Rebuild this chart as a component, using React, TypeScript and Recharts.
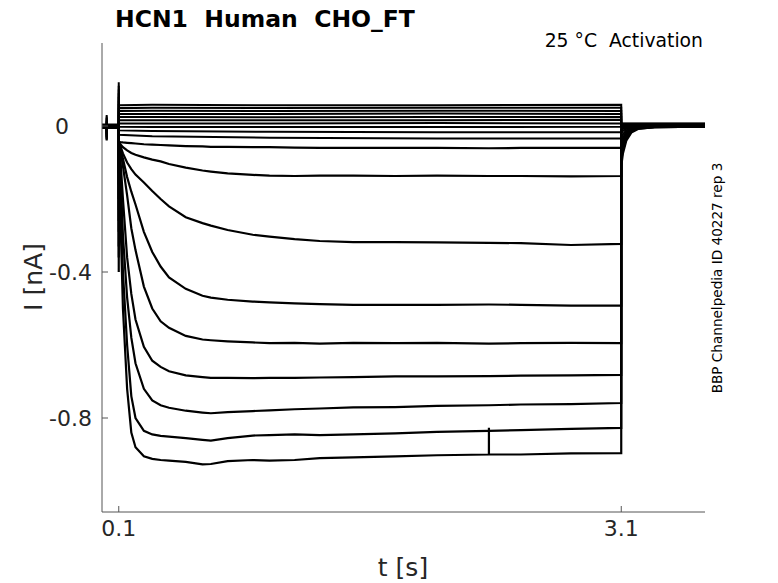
import React from 'react';
import { LineChart, Line, XAxis, YAxis } from 'recharts';

// time points (s)
const PRE_T = [0, 0.0279, 0.028, 0.0281, 0.0999];
const ONSET_T = 0.1;
const STEP_T = [
  0.1005, 0.11, 0.125, 0.15, 0.175, 0.2, 0.25, 0.3, 0.35, 0.4, 0.5, 0.6, 0.65, 0.75,
  0.9, 1.0, 1.15, 1.3, 1.5, 1.75, 2.0, 2.3099, 2.31, 2.3101, 2.5, 2.8, 3.0999,
];
const SMALL_T = [0.1005, 0.3, 1.0, 2.0, 3.0999];
const TAIL_T = [3.1, 3.11, 3.13, 3.16, 3.2, 3.3, 3.6];

// per sweep, top to bottom (10 small sweeps, then 9 large inward currents), nA
const BASELINE = [
  0.004, 0.003, 0.003, 0.002, 0.002, 0.001, 0.001, 0, 0, 0,
  -0.001, -0.001, -0.002, -0.002, -0.003, -0.003, -0.004, -0.004, -0.005,
];
const PRE_ARTIFACT = [
  0.03, 0.026, 0.022, 0.018, 0.014, 0.01, 0.006, 0.002, -0.002, -0.006,
  -0.01, -0.014, -0.018, -0.022, -0.026, -0.03, -0.034, -0.037, -0.04,
];
const ONSET_SPIKE = [
  0.12, 0.11, 0.1, 0.09, 0.08, 0.07, 0.06, 0.05, 0.04, 0.03,
  -0.13, -0.16, -0.2, -0.23, -0.26, -0.29, -0.33, -0.36, -0.4,
];

// small sweeps during the step
const SMALL_STEP = [
  [0.057, 0.058, 0.057, 0.057, 0.058],
  [0.049, 0.05, 0.049, 0.05, 0.05],
  [0.041, 0.042, 0.041, 0.042, 0.041],
  [0.033, 0.033, 0.033, 0.034, 0.033],
  [0.025, 0.025, 0.024, 0.025, 0.025],
  [0.016, 0.016, 0.016, 0.016, 0.017],
  [0.007, 0.007, 0.007, 0.008, 0.007],
  [-0.002, -0.003, -0.003, -0.003, -0.002],
  [-0.012, -0.014, -0.016, -0.017, -0.017],
  [-0.024, -0.028, -0.032, -0.034, -0.034],
];
const SMALL_TAIL = [0.007, 0.006, 0.005, 0.004, 0.003, 0.002, 0.001, 0, -0.001, -0.003];

// large sweeps during the step
const STEP_1 = [-0.043, -0.044, -0.045, -0.046, -0.047, -0.048, -0.05, -0.051, -0.052, -0.053, -0.055, -0.056, -0.057, -0.057, -0.058, -0.058, -0.059, -0.06, -0.06, -0.06, -0.06, -0.061, -0.061, -0.061, -0.06, -0.06, -0.06];
const STEP_2 = [-0.045, -0.05, -0.058, -0.067, -0.074, -0.079, -0.086, -0.092, -0.097, -0.104, -0.114, -0.122, -0.125, -0.13, -0.134, -0.136, -0.137, -0.136, -0.136, -0.137, -0.136, -0.137, -0.137, -0.137, -0.137, -0.138, -0.137];
const STEP_3 = [-0.045, -0.055, -0.075, -0.1, -0.118, -0.133, -0.155, -0.178, -0.2, -0.22, -0.25, -0.266, -0.273, -0.285, -0.298, -0.303, -0.31, -0.315, -0.318, -0.318, -0.319, -0.32, -0.32, -0.32, -0.321, -0.326, -0.323];
const STEP_4 = [-0.045, -0.06, -0.09, -0.14, -0.18, -0.215, -0.29, -0.345, -0.385, -0.415, -0.446, -0.465, -0.47, -0.476, -0.481, -0.483, -0.486, -0.488, -0.49, -0.49, -0.49, -0.489, -0.489, -0.489, -0.49, -0.492, -0.492];
const STEP_5 = [-0.045, -0.065, -0.11, -0.19, -0.28, -0.34, -0.44, -0.5, -0.535, -0.553, -0.575, -0.585, -0.587, -0.59, -0.593, -0.595, -0.594, -0.596, -0.594, -0.595, -0.594, -0.596, -0.596, -0.596, -0.595, -0.594, -0.595];
const STEP_6 = [-0.045, -0.09, -0.2, -0.36, -0.46, -0.53, -0.605, -0.643, -0.66, -0.672, -0.683, -0.688, -0.69, -0.69, -0.691, -0.69, -0.69, -0.689, -0.688, -0.686, -0.686, -0.685, -0.685, -0.685, -0.684, -0.683, -0.682];
const STEP_7 = [-0.045, -0.12, -0.3, -0.47, -0.58, -0.65, -0.72, -0.752, -0.765, -0.772, -0.78, -0.785, -0.787, -0.784, -0.781, -0.779, -0.776, -0.774, -0.771, -0.77, -0.767, -0.765, -0.765, -0.765, -0.763, -0.762, -0.759];
const STEP_8 = [-0.045, -0.18, -0.4, -0.6, -0.74, -0.8, -0.835, -0.845, -0.849, -0.851, -0.855, -0.86, -0.862, -0.855, -0.848, -0.847, -0.845, -0.847, -0.845, -0.842, -0.838, -0.835, -0.835, -0.835, -0.833, -0.83, -0.827];
const STEP_9 = [-0.045, -0.25, -0.5, -0.72, -0.84, -0.88, -0.905, -0.912, -0.915, -0.917, -0.92, -0.927, -0.926, -0.918, -0.915, -0.917, -0.915, -0.91, -0.908, -0.905, -0.902, -0.9, -0.827, -0.9, -0.9, -0.897, -0.896];
const LARGE_STEP = [STEP_1, STEP_2, STEP_3, STEP_4, STEP_5, STEP_6, STEP_7, STEP_8, STEP_9];

// tail currents after the step
const LARGE_TAIL = [
  [-0.01, -0.007, -0.004, -0.002, -0.001, 0, 0],
  [-0.02, -0.013, -0.007, -0.003, -0.001, -0.001, 0],
  [-0.035, -0.023, -0.012, -0.005, -0.002, -0.001, -0.001],
  [-0.05, -0.033, -0.017, -0.007, -0.003, -0.002, -0.001],
  [-0.06, -0.04, -0.02, -0.009, -0.004, -0.002, -0.001],
  [-0.075, -0.05, -0.026, -0.011, -0.005, -0.002, -0.001],
  [-0.085, -0.058, -0.03, -0.013, -0.006, -0.003, -0.002],
  [-0.095, -0.065, -0.035, -0.015, -0.007, -0.003, -0.002],
  [-0.11, -0.075, -0.04, -0.018, -0.008, -0.003, -0.002],
];

const X_TICKS = [0.1, 3.1];
const Y_TICKS = [-0.8, -0.4, 0];

const TEXT = '#262626';
const FONT = '"DejaVu Sans", sans-serif';

type Pt = { t: number; i: number };

const buildSweep = (k: number, stepT: number[], stepI: number[], tailI: number[]): Pt[] => [
  ...PRE_T.map((t, j) => ({ t, i: j === 2 ? PRE_ARTIFACT[k] : BASELINE[k] })),
  { t: ONSET_T, i: ONSET_SPIKE[k] },
  ...stepT.map((t, j) => ({ t, i: stepI[j] })),
  ...TAIL_T.map((t, j) => ({ t, i: tailI[j] })),
];

const sweeps: Pt[][] = [
  ...SMALL_STEP.map((s, k) => buildSweep(k, SMALL_T, s, TAIL_T.map(() => SMALL_TAIL[k]))),
  ...LARGE_STEP.map((s, k) => buildSweep(k + 10, STEP_T, s, LARGE_TAIL[k])),
];

const YTick = ({ x, y, payload }: any) => (
  <text
    x={x}
    y={y}
    dx={payload.value === 0 ? -23 : 0}
    dy={8}
    textAnchor="end"
    fill={TEXT}
    fontSize={22}
    fontFamily={FONT}
  >
    {payload.value === 0 ? '0' : String(payload.value)}
  </text>
);

const XTick = ({ x, y, payload }: any) => (
  <text x={x} y={y} dy={16} textAnchor="middle" fill={TEXT} fontSize={22} fontFamily={FONT}>
    {String(payload.value)}
  </text>
);

export default function App() {
  return (
    <div style={{ position: 'absolute', left: 0, top: 0, width: 778, height: 583, background: '#fff' }}>
      <LineChart width={778} height={583} margin={{ top: 43, right: 73, bottom: 41, left: 0 }}>
        <XAxis
          type="number"
          dataKey="t"
          domain={[0, 3.6]}
          ticks={X_TICKS}
          tickSize={-6}
          tickMargin={14}
          height={30}
          stroke="#555"
          tick={<XTick />}
          allowDataOverflow
        />
        <YAxis
          type="number"
          dataKey="i"
          domain={[-1.0575, 0.2274]}
          ticks={Y_TICKS}
          tickSize={-6}
          tickMargin={16}
          width={102}
          stroke="#555"
          tick={<YTick />}
          allowDataOverflow
        />
        {sweeps.map((d, k) => (
          <Line
            key={k}
            data={d}
            dataKey="i"
            type="linear"
            stroke="#000"
            strokeWidth={k < 10 ? 2 : 2.2}
            dot={false}
            activeDot={false}
            isAnimationActive={false}
          />
        ))}
      </LineChart>
      <svg
        width={778}
        height={583}
        style={{ position: 'absolute', left: 0, top: 0, pointerEvents: 'none' }}
        fontFamily={FONT}
      >
        <text x={115} y={27} fontSize={23.5} fontWeight="bold" fill="#000" style={{ whiteSpace: 'pre' }}>
          HCN1  Human  CHO_FT
        </text>
        <text x={703} y={47} fontSize={18.8} textAnchor="end" fill="#000" style={{ whiteSpace: 'pre' }}>
          25 °C  Activation
        </text>
        <text x={403} y={576} fontSize={25} textAnchor="middle" fill={TEXT}>
          t [s]
        </text>
        <text x={42} y={277} fontSize={25} textAnchor="middle" fill={TEXT} transform="rotate(-90 42 277)">
          I [nA]
        </text>
        <text x={722} y={278} fontSize={13.6} textAnchor="middle" fill="#000" transform="rotate(-90 722 278)">
          BBP Channelpedia ID 40227 rep 3
        </text>
      </svg>
    </div>
  );
}
